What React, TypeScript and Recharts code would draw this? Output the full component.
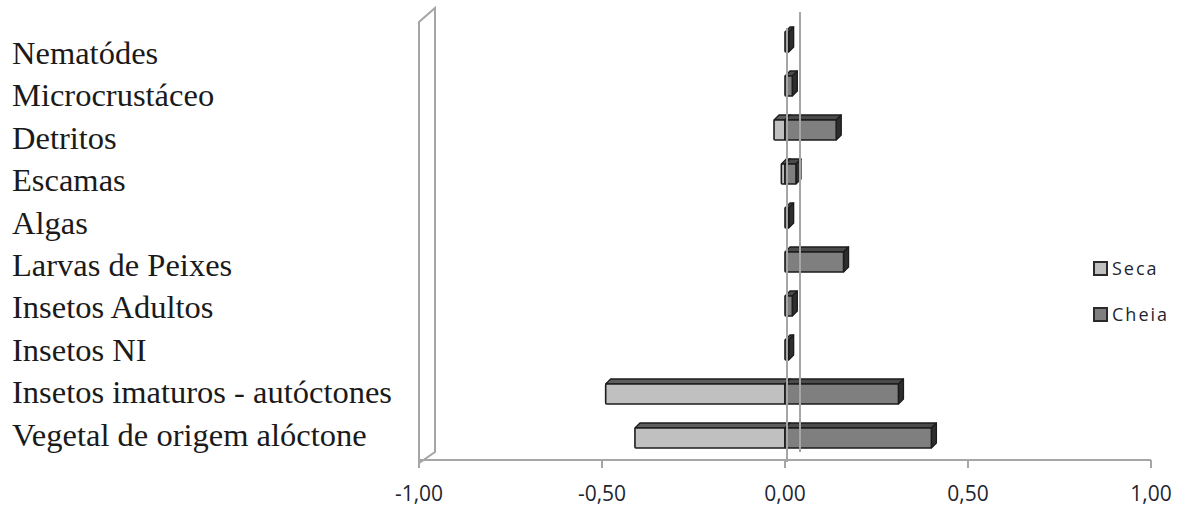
import React from 'react';
import {
  BarChart,
  Bar,
  XAxis,
  YAxis,
  ReferenceLine,
  Legend,
} from 'recharts';

const categories = [
  'Nematódes',
  'Microcrustáceo',
  'Detritos',
  'Escamas',
  'Algas',
  'Larvas de Peixes',
  'Insetos Adultos',
  'Insetos NI',
  'Insetos imaturos - autóctones',
  'Vegetal de origem alóctone',
];

const seca = [0, 0, -0.03, -0.01, 0, 0, 0, 0, -0.49, -0.41];
const cheia = [0.01, 0.02, 0.14, 0.03, 0.01, 0.16, 0.02, 0.01, 0.31, 0.4];

const xTicks = [-1, -0.5, 0, 0.5, 1];

const data = categories.map((name, i) => ({ name, seca: seca[i], cheia: cheia[i] }));

const DEPTH = 5;
const AXIS_GRAY = '#a6a6a6';

const fmt = (v: number) => v.toFixed(2).replace('.', ',');

// box with a top face and a right side face, Excel 3D style
const make3DBar = (front: string, top: string, side: string) => (props: any) => {
  const { x, y, width, height } = props;
  if (!width || Math.abs(width) < 0.01) return null;
  const x0 = Math.min(x, x + width);
  const w = Math.abs(width);
  const d = DEPTH;
  const stroke = '#1c1c1c';
  return (
    <g>
      <polygon
        points={`${x0},${y} ${x0 + d},${y - d} ${x0 + w + d},${y - d} ${x0 + w},${y}`}
        fill={top}
        stroke={stroke}
        strokeWidth={1.3}
        strokeLinejoin="round"
      />
      <polygon
        points={`${x0 + w},${y} ${x0 + w + d},${y - d} ${x0 + w + d},${y + height - d} ${x0 + w},${y + height}`}
        fill={side}
        stroke={stroke}
        strokeWidth={1.3}
        strokeLinejoin="round"
      />
      <rect x={x0} y={y} width={w} height={height} fill={front} stroke={stroke} strokeWidth={1.6} rx={1} />
    </g>
  );
};

const SecaBar = make3DBar('#c0c0c0', '#5e5e5e', '#3a3a3a');
const CheiaBar = make3DBar('#7f7f7f', '#4a4a4a', '#2e2e2e');

// left side wall of the 3D plot
const WallShape = (props: any) => {
  const { x1, y1, y2 } = props;
  const dx = 16;
  const dy = 11;
  return (
    <polygon
      points={`${x1},${y2 + 2} ${x1},${y1 + 3} ${x1 + dx},${y1 - dy + 3} ${x1 + dx},${y2 - 12}`}
      fill="none"
      stroke={AXIS_GRAY}
      strokeWidth={2}
    />
  );
};

// zero line on the front plane and on the back plane
const ZeroShape = (props: any) => {
  const { x1, y1, y2 } = props;
  return (
    <g stroke={AXIS_GRAY} strokeWidth={2}>
      <line x1={x1 + 2} y1={y1 + 2} x2={x1 + 2} y2={y2 + 8} />
      <line x1={x1 + 15} y1={y1 - 8} x2={x1 + 15} y2={y2 - 8} />
    </g>
  );
};

const CategoryTick = (props: any) => {
  const { y, payload, index } = props;
  return (
    <text
      x={12}
      y={y + 22 - 1.6 * index}
      textAnchor="start"
      fontFamily="'Liberation Serif', 'Times New Roman', serif"
      fontSize={32.5}
      fill="#1a1a1a"
    >
      {payload.value}
    </text>
  );
};

const LegendContent = () => {
  const items = [
    { label: 'Seca', color: '#c0c0c0' },
    { label: 'Cheia', color: '#7f7f7f' },
  ];
  return (
    <div style={{ fontFamily: "'Open Sans', sans-serif", fontSize: 18, color: '#1f2530' }}>
      {items.map((it) => (
        <div key={it.label} style={{ display: 'flex', alignItems: 'center', height: 24, marginBottom: 22 }}>
          <span
            style={{
              width: 11,
              height: 11,
              background: it.color,
              border: '2px solid #2a2a2a',
              marginRight: 4,
              display: 'inline-block',
            }}
          />
          <span style={{ letterSpacing: 2 }}>{it.label}</span>
        </div>
      ))}
    </div>
  );
};

export default function App() {
  return (
    <div style={{ position: 'absolute', left: 0, top: 0, background: '#fff' }}>
      <BarChart
        width={1186}
        height={508}
        data={data}
        layout="vertical"
        stackOffset="sign"
        barSize={20}
        margin={{ top: 20, right: 35, bottom: 18, left: 0 }}
      >
        <XAxis
          type="number"
          domain={[-1, 1]}
          ticks={xTicks}
          tickFormatter={fmt}
          height={30}
          axisLine={{ stroke: AXIS_GRAY, strokeWidth: 2 }}
          tickLine={{ stroke: AXIS_GRAY, strokeWidth: 2 }}
          tickSize={8}
          tick={{ fontFamily: "'Open Sans', sans-serif", fontSize: 21, fill: '#1f2530', dy: 16 }}
          allowDataOverflow
        />
        <YAxis
          type="category"
          dataKey="name"
          width={419}
          axisLine={false}
          tickLine={false}
          tick={<CategoryTick />}
          interval={0}
        />
        <ReferenceLine x={-1} shape={<WallShape />} ifOverflow="visible" />
        <ReferenceLine x={0} shape={<ZeroShape />} ifOverflow="visible" />
        <Legend
          layout="vertical"
          align="center"
          verticalAlign="middle"
          content={<LegendContent />}
          wrapperStyle={{ position: 'absolute', left: 1093, top: 256, width: 90, height: 0 }}
        />
        <Bar dataKey="seca" name="Seca" stackId="a" shape={SecaBar} isAnimationActive={false} />
        <Bar dataKey="cheia" name="Cheia" stackId="a" shape={CheiaBar} isAnimationActive={false} />
      </BarChart>
    </div>
  );
}
